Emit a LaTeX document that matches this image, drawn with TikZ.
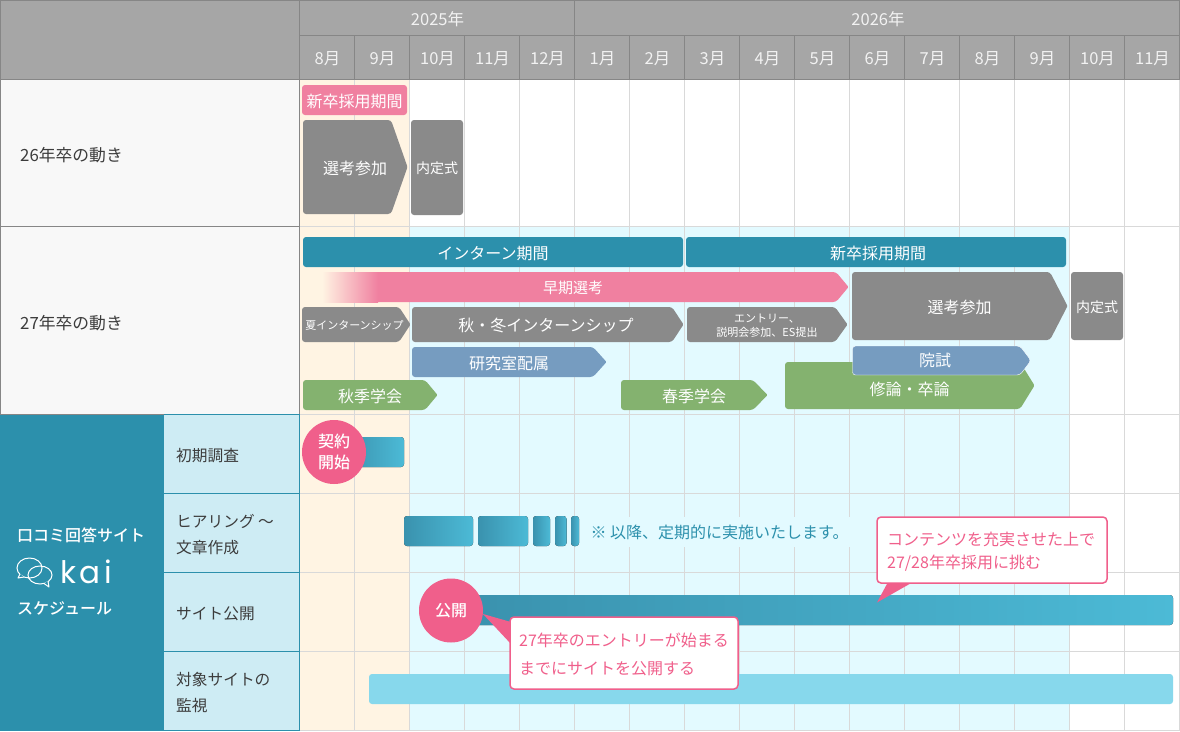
\documentclass[tikz,border=0pt]{standalone}
\usepackage{fontspec}
\setmainfont{Noto Sans CJK JP}
\newfontfamily\medfont{Noto Sans CJK JP Medium}
\newfontfamily\kaifont[LetterSpace=12]{Poppins}
\usetikzlibrary{calc,positioning,shapes}
\definecolor{headgray}{HTML}{A6A6A6}
\definecolor{headline}{HTML}{868686}
\definecolor{rowbg}{HTML}{F8F8F8}
\definecolor{gridgray}{HTML}{D9D9D9}
\definecolor{teal}{HTML}{2C90AC}
\definecolor{subbg}{HTML}{CEECF4}
\definecolor{orangebg}{HTML}{FFF4E3}
\definecolor{cyanbg}{HTML}{E3FAFF}
\definecolor{barpink}{HTML}{F080A0}
\definecolor{hotpink}{HTML}{F05F8B}
\definecolor{bargray}{HTML}{8A8A8A}
\definecolor{barblue}{HTML}{769CC0}
\definecolor{bargreen}{HTML}{84B26F}
\definecolor{gradA}{HTML}{3A92AE}
\definecolor{gradB}{HTML}{4CBAD6}
\definecolor{barsky}{HTML}{87D8EC}
\definecolor{inktext}{HTML}{3C3C3C}
\newcommand{\fs}[1]{\fontsize{#1}{#1}\selectfont}
% name, x1, x2, tip start, y1, y2, colour, text
\newcommand{\chevron}[8]{
\fill[#7, rounded corners=3pt] (#2,#5) -- (#4,#5) [rounded corners=1pt] -- (#3+0.5,{(#5+#6)/2}) [rounded corners=3pt] -- (#4,#6) -- (#2,#6) -- cycle;
\node[bartext] (#1) at ({(#2+#3)/2},{(#5+#6)/2+1}) {#8};
}
\begin{document}
\begin{tikzpicture}[x=1pt,y=-1pt]
\tikzstyle{bartext} = [text=white, inner sep = 0 pt, font=\fs{16}, align=center];
\tikzstyle{label} = [text=inktext, inner sep = 0 pt, anchor=west, font=\fs{15.7}];
\tikzstyle{head} = [text=white!95!black, inner sep = 0 pt, font=\fs{16.5}];
\tikzstyle{band} = [rounded corners=3pt, inner sep = 0 pt, text=white, font=\fs{16}, text height=14pt, text depth=0pt];
\tikzstyle{grad} = [rounded corners=3pt, left color=gradA, right color=gradB];
\tikzstyle{badge} = [circle, fill=hotpink, minimum size=64pt, inner sep = 0 pt, text=white, align=center, font=\medfont\fs{16}];
\tikzstyle{callout} = [draw=hotpink, line width=1.5pt, fill=white, rounded corners=4pt, inner sep = 0 pt];
\tikzstyle{calltext} = [text=hotpink, inner sep = 0 pt, anchor=west, font=\fs{16}];
\useasboundingbox (0,0) rectangle (1180,731);
\fill[white] (0,0) rectangle (1180,731);
\fill[orangebg] (300,80) rectangle (410,731);
\fill[cyanbg] (410,227) rectangle (1070,731);
\foreach \k in {0,...,16}
  \draw[gridgray] ({300+55*\k-0.5},80) -- ({300+55*\k-0.5},731);
\foreach \y in {226.5,414.5,493.5,572.5,651.5,730.5}
  \draw[gridgray] (300,\y) -- (1180,\y);
\fill[headgray] (0,0) rectangle (1180,80);
\fill[rowbg] (0,80) rectangle (300,415);
\draw[headline] (0.5,0.5) -- (1179.5,0.5) -- (1179.5,79.5) (0,79.5) -- (1180,79.5) (300,35.5) -- (1180,35.5);
\draw[headline] (0.5,0) -- (0.5,415) (0,226.5) -- (300,226.5) (0,414.5) -- (300,414.5);
\draw[headline] (299.5,0) -- (299.5,415);
\draw[headline] (574.5,0) -- (574.5,36);
\foreach \k in {0,...,16}
  \draw[headline] ({300+55*\k-0.5},36) -- ({300+55*\k-0.5},80);
\node[head] (y25) at (437.5,19.5) {2025年};
\node[head] (y26) at (878,19.5) {2026年};
\foreach \m [count=\i from 0] in {8,9,10,11,12,1,2,3,4,5,6,7,8,9,10,11}
  \node[head] (m\i) at ({327.5+55*\i},58.5) {\m 月};
\node[label, font=\fs{16.8}] (r26) at (20,155) {26年卒の動き};
\node[label, font=\fs{16.8}] (r27) at (20,323) {27年卒の動き};
\fill[teal] (0,415) rectangle (164,731);
\fill[subbg] (164,415) rectangle (300,731);
\draw[teal] (164,414.5) -- (300,414.5) (164,493.5) -- (300,493.5) (164,572.5) -- (300,572.5) (164,651.5) -- (300,651.5) (164,730.5) -- (300,730.5) (299.5,415) -- (299.5,731);
\node[label] (s1) at (176,455.5) {初期調査};
\node[label] (s2a) at (176,521.5) {ヒアリング 〜};
\node[label] (s2b) at (176,547.5) {文章作成};
\node[label] (s3) at (176,613.5) {サイト公開};
\node[label] (s4a) at (176,679.5) {対象サイトの};
\node[label] (s4b) at (176,705.5) {監視};
\node[label, text=white, font=\medfont\fs{16}] (kaiA) at (17,535.5) {口コミ回答サイト};
\node[label, text=white, font=\medfont\fs{16}] (kaiC) at (17,608.5) {スケジュール};
\node[label, text=white, font=\kaifont\fs{31}] (kaiB) at (60,572) {kai};
\draw[white, line width=1pt] (29.5,568) ellipse[x radius=12.5, y radius=10] (40,575) ellipse[x radius=12, y radius=9];
\draw[white, line width=1pt, line join=round, fill=teal] (20,574) -- (18,578) -- (24,577);
\draw[white, line width=1pt, line join=round, fill=teal] (48,581) -- (49,587) -- (44,583.5);
% 26
\node[band, fill=barpink, minimum width=105pt, minimum height=30pt] (pick26) at (354.5,100) {新卒採用期間};
\chevron{sel26}{303}{407}{391}{120}{214}{bargray}{選考参加}
\node[band, fill=bargray, minimum width=52pt, minimum height=95pt, font=\fs{14}, text height=12pt] (nai26) at (437,167.5) {内定式};
% 27
\node[band, fill=teal, minimum width=380pt, minimum height=30pt] (intern) at (493,252) {インターン期間\hspace{2pt}};
\node[band, fill=teal, minimum width=380pt, minimum height=30pt] (pick27) at (876,252) {\hspace{4pt}新卒採用期間};
\chevron{early}{375}{848}{836}{272}{302}{barpink}{}
\fill[left color=orangebg, right color=barpink] (322,272) rectangle (378,302);
\node[bartext, font=\fs{15}] (earlyT) at (573,287.5) {早期選考};
\chevron{summer}{302}{410}{399}{307}{342}{bargray}{\fs{11}夏インターンシップ\hspace{3pt}}
\chevron{autumn}{412}{683}{672}{307}{342}{bargray}{\fs{16}秋・冬インターンシップ\hspace{3pt}}
\chevron{entry}{687}{847}{835}{307}{342}{bargray}{\fs{11}エントリー、\\[-2pt]\fs{11}説明会参加、ES提出}
\chevron{sel27}{852}{1067}{1050}{272}{340}{bargray}{選考参加}
\node[band, fill=bargray, minimum width=52pt, minimum height=68pt, font=\fs{14}, text height=12pt] (nai27) at (1097,306) {内定式};
\chevron{labo}{412}{606}{593}{347}{377}{barblue}{研究室配属}
\chevron{thesis}{785}{1034}{1020}{362}{409}{bargreen}{}
\node[bartext] (thesisT) at (909.5,389) {修論・卒論};
\fill[barblue, draw=white, rounded corners=3pt] (852.5,346) -- (1020,346) -- (1031,360.5) -- (1020,375) -- (852.5,375) -- cycle;
\node[bartext] (exam) at (935,360.5) {院試};
\chevron{fall}{303}{437}{425}{380}{410}{bargreen}{秋季学会}
\chevron{spring}{621}{767}{753}{380}{410}{bargreen}{春季学会}
% kai rows
\fill[grad] (345,437) rectangle (404,467);
\node[badge] (start) at (334,452) {契約\\[5pt]開始};
\fill[grad] (404,516) rectangle (473,546);
\fill[grad] (478,516) rectangle (528,546);
\fill[grad] (533,516) rectangle (550,546);
\fill[grad] (555,516) rectangle (566.5,546);
\fill[grad] (571,516) rectangle (579,546);
\node[fill=cyanbg, inner xsep=5pt, inner ysep=0pt, minimum height=30pt, text=teal, font=\fs{16}] (note) at (719.5,532) {※ 以降、定期的に実施いたします。};
\fill[grad] (470,595) rectangle (1173,625);
\node[badge] (open) at (451,610.5) {公開};
\fill[barsky, rounded corners=3pt] (369,674) rectangle (1173,704);
\coordinate (tipA) at (483,614);
\coordinate (tipB) at (877,602.5);
\fill[hotpink] (tipA) -- (511,622) -- (511,644) -- cycle;
\fill[hotpink] (tipB) -- (888,582) -- (913,582) -- cycle;
\node[callout, minimum width=228pt, minimum height=72pt] (boxA) at (624,653) {};
\node[callout, minimum width=230pt, minimum height=66pt] (boxB) at (992,550) {};
\node[calltext] (boxA1) at (519,640.5) {27年卒のエントリーが始まる};
\node[calltext] (boxA2) at (519,668.5) {までにサイトを公開する};
\node[calltext] (boxB1) at (887,539.5) {コンテンツを充実させた上で};
\node[calltext] (boxB2) at (887,563.5) {27/28年卒採用に挑む};
\end{tikzpicture}
\end{document}
